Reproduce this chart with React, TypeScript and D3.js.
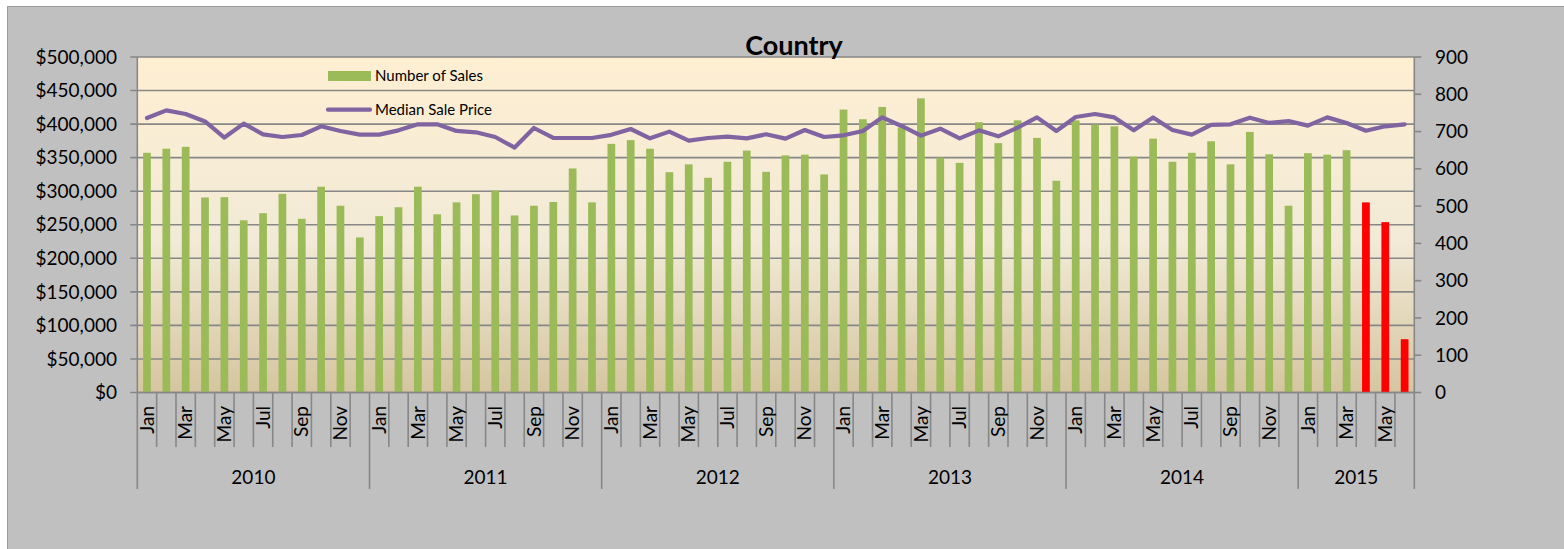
import React from "react";
import * as d3 from "d3";

const years = ["2010", "2011", "2012", "2013", "2014", "2015"];
const monthNames = ["Jan", "Feb", "Mar", "Apr", "May", "Jun", "Jul", "Aug", "Sep", "Oct", "Nov", "Dec"];
const monthCount = 66;

// Number of Sales (right axis)
const sales = [
  643, 654, 659, 523, 524, 462, 481, 533, 466, 552, 501, 416,
  473, 497, 552, 478, 510, 532, 542, 475, 501, 511, 601, 510,
  667, 677, 654, 591, 612, 576, 619, 649, 592, 636, 638, 585,
  759, 733, 766, 711, 789, 630, 616, 725, 669, 730, 683, 568,
  730, 719, 714, 633, 681, 619, 643, 674, 612, 699, 639, 501,
  642, 638, 650, 510, 457, 143,
];

// Median Sale Price (left axis)
const medianPrice = [
  409000, 420500, 415000, 404000, 380000, 400700, 384800, 380800, 383800, 396700, 389800, 384300,
  384300, 390700, 399700, 399700, 389800, 387800, 380800, 365000, 394200, 379300, 379300, 379300,
  384000, 392700, 378800, 388800, 375400, 379300, 381300, 378800, 384800, 378300, 391200, 380800,
  383300, 389800, 410000, 397200, 382800, 393200, 378800, 390700, 381800, 394700, 410000, 389800,
  410600, 415000, 410000, 390700, 410000, 391200, 384300, 398700, 399700, 409600, 401700, 404600,
  397700, 410000, 401700, 390200, 396700, 399700,
];

// months drawn in red (incomplete data)
const partialMonths = ["2015-Apr", "2015-May", "2015-Jun"];

const leftTicks = d3.range(0, 500001, 50000);
const rightTicks = d3.range(0, 901, 100);

const W = 1564;
const H = 549;
const FONT = "Lato, Carlito, 'Open Sans', sans-serif";

export default function App() {
  const categories = d3.range(monthCount).map((i) => ({
    key: `${years[Math.floor(i / 12)]}-${monthNames[i % 12]}`,
    year: years[Math.floor(i / 12)],
    month: monthNames[i % 12],
    idx: i,
  }));

  const plotL = 137.3;
  const plotR = 1414.3;
  const plotT = 57;
  const plotB = 392.5;

  const x = d3
    .scaleBand<string>()
    .domain(categories.map((c) => c.key))
    .range([plotL, plotR])
    .paddingInner(0.6)
    .paddingOuter(0.3);
  const step = x.step();
  const yL = d3.scaleLinear().domain([0, 500000]).range([plotB, plotT]);
  const yR = d3.scaleLinear().domain([0, 900]).range([plotB, plotT]);

  const cx = (k: string) => (x(k) as number) + x.bandwidth() / 2;
  const slotLeft = (i: number) => plotL + i * step;

  const line = d3
    .line<number>()
    .x((_, i) => cx(categories[i].key))
    .y((d) => yL(d));

  const fmtMoney = (v: number) => "$" + d3.format(",")(v);
  const gridColor = "#878787";

  return (
    <div style={{ position: "absolute", left: 0, top: 0 }}>
      <svg width={W} height={H} style={{ display: "block" }}>
        <defs>
          <linearGradient id="plotBg" x1="0" y1="0" x2="0" y2="1">
            <stop offset="0%" stopColor="#FEEFD2" />
            <stop offset="55%" stopColor="#F2EAD7" />
            <stop offset="100%" stopColor="#D5C5A0" />
          </linearGradient>
        </defs>
        <rect x={0} y={0} width={W} height={H} fill="#ffffff" />
        <rect x={7.5} y={6.5} width={W + 10} height={H + 10} fill="#C0C0C0" stroke="#9C9C9C" strokeWidth={1} />

        {/* plot area */}
        <rect x={plotL} y={plotT} width={plotR - plotL} height={plotB - plotT} fill="url(#plotBg)" />

        {/* gridlines */}
        {leftTicks.map((t) => (
          <line key={"g" + t} x1={plotL - 7} x2={plotR} y1={yL(t)} y2={yL(t)} stroke={gridColor} strokeWidth={1.6} />
        ))}
        {rightTicks.map((t) => (
          <line key={"rt" + t} x1={plotR} x2={plotR + 7} y1={yR(t)} y2={yR(t)} stroke={gridColor} strokeWidth={1.6} />
        ))}
        <line x1={plotL} x2={plotL} y1={plotT} y2={plotB} stroke={gridColor} strokeWidth={1.6} />
        <line x1={plotR} x2={plotR} y1={plotT} y2={plotB} stroke={gridColor} strokeWidth={1.6} />

        {/* bars */}
        {categories.map((c, i) => (
          <rect
            key={"b" + c.key}
            x={x(c.key)}
            y={yR(sales[i])}
            width={x.bandwidth()}
            height={plotB - yR(sales[i])}
            fill={partialMonths.includes(c.key) ? "#FF0000" : "#9BBB59"}
          />
        ))}

        {/* line */}
        <path d={line(medianPrice) || ""} fill="none" stroke="#8064A2" strokeWidth={4.2} strokeLinejoin="round" strokeLinecap="round" />

        {/* x axis */}
        <line x1={plotL} x2={plotR} y1={plotB} y2={plotB} stroke={gridColor} strokeWidth={1.6} />
        {d3.range(monthCount + 1).map((i) => {
          const isYear = i % 12 === 0 || i === monthCount;
          return (
            <line
              key={"mt" + i}
              x1={slotLeft(i)}
              x2={slotLeft(i)}
              y1={plotB}
              y2={isYear ? 489 : 447}
              stroke={gridColor}
              strokeWidth={1.6}
            />
          );
        })}
        {categories
          .filter((c) => c.idx % 2 === 0)
          .map((c) => (
            <text
              key={"ml" + c.key}
              transform={`translate(${cx(c.key)},${406}) rotate(-90)`}
              textAnchor="end"
              dy="0.35em"
              fontFamily={FONT}
              fontSize={19}
              fill="#000"
            >
              {c.month}
            </text>
          ))}
        {years.map((yv, yi) => {
          const start = yi * 12;
          const end = Math.min(monthCount, start + 12);
          const mid = (slotLeft(start) + slotLeft(end)) / 2;
          return (
            <text key={"y" + yv} x={mid} y={477} textAnchor="middle" dy="0.35em" fontFamily={FONT} fontSize={19} fill="#000">
              {yv}
            </text>
          );
        })}

        {/* left axis labels */}
        {leftTicks.map((t) => (
          <text key={"ll" + t} x={117} y={yL(t)} dy="0.35em" textAnchor="end" fontFamily={FONT} fontSize={19} fill="#000">
            {fmtMoney(t)}
          </text>
        ))}
        {/* right axis labels */}
        {rightTicks.map((t) => (
          <text key={"rl" + t} x={1435} y={yR(t)} dy="0.35em" textAnchor="start" fontFamily={FONT} fontSize={19} fill="#000">
            {t}
          </text>
        ))}

        {/* title */}
        <text x={794} y={55} textAnchor="middle" fontFamily={FONT} fontWeight="bold" fontSize={27} fill="#000">
          Country
        </text>

        {/* legend */}
        <rect x={328} y={71} width={43} height={10} fill="#9BBB59" />
        <text x={375} y={76} dy="0.35em" fontFamily={FONT} fontSize={15} fill="#000">
          Number of Sales
        </text>
        <line x1={328} x2={370} y1={109.7} y2={109.7} stroke="#8064A2" strokeWidth={4.2} strokeLinecap="round" />
        <text x={375} y={110} dy="0.35em" fontFamily={FONT} fontSize={15} fill="#000">
          Median Sale Price
        </text>
      </svg>
    </div>
  );
}
